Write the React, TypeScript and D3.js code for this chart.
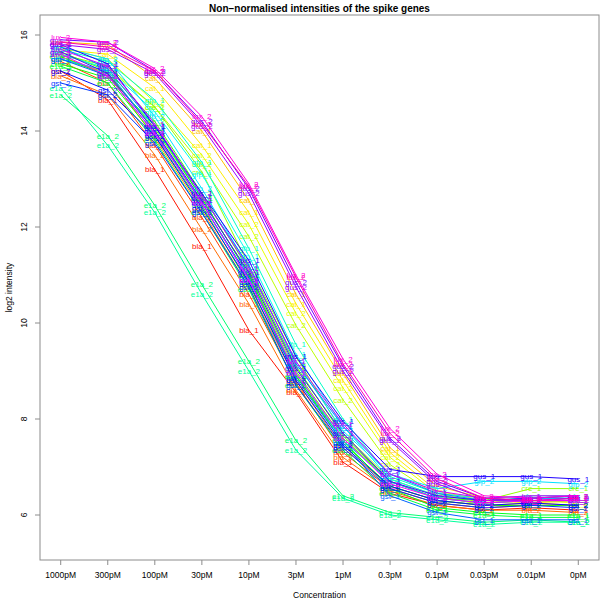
import React from "react";
import * as d3 from "d3";

const concentrations = ["1000pM", "300pM", "100pM", "30pM", "10pM", "3pM", "1pM", "0.3pM", "0.1pM", "0.03pM", "0.01pM", "0pM"];
const yTicks = [6, 8, 10, 12, 14, 16];

// label for each probe line (alphabetical order, as coloured by rainbow)
const probeLabels = [
  "bla_1", "bla_1", "bla_2", "bla_2",
  "cat_1", "cat_1", "cat_2", "cat_2",
  "cre_1", "cre_1", "cre_2", "cre_2",
  "e1a_1", "e1a_1", "e1a_2", "e1a_2",
  "gfp_1", "gfp_1", "gfp_2", "gfp_2",
  "gst_1", "gst_1", "gst_2", "gst_2",
  "gus_1", "gus_1", "gus_2", "gus_2",
  "lux_1", "lux_1", "lux_2", "lux_2",
];

// log2 intensities, one row per probe line, columns follow concentrations
const intensities = [
  [15.25, 14.65, 13.2, 11.6, 9.85, 8.55, 7.1, 6.45, 6.2, 6.1, 6.15, 6.1],
  [15.45, 15.0, 13.7, 12.2, 10.6, 8.75, 7.3, 6.55, 6.25, 6.15, 6.2, 6.2],
  [15.15, 14.75, 13.5, 11.95, 10.4, 8.6, 7.2, 6.5, 6.2, 6.1, 6.1, 6.05],
  [15.55, 15.2, 13.85, 12.35, 10.75, 8.8, 7.4, 6.6, 6.3, 6.2, 6.25, 6.2],
  [15.85, 15.8, 15.1, 14.0, 12.55, 10.6, 8.95, 7.4, 6.6, 6.35, 6.3, 6.3],
  [15.7, 15.6, 14.9, 13.7, 12.3, 10.4, 8.8, 7.3, 6.5, 6.3, 6.25, 6.3],
  [15.75, 15.5, 14.6, 13.5, 12.05, 10.2, 8.65, 7.2, 6.45, 6.25, 6.3, 6.25],
  [15.6, 15.3, 14.5, 13.3, 11.8, 9.95, 8.4, 7.05, 6.4, 6.2, 6.2, 6.2],
  [15.6, 15.35, 14.5, 13.15, 11.2, 9.3, 7.7, 6.75, 6.4, 6.3, 6.55, 6.55],
  [15.5, 15.2, 14.05, 12.6, 11.0, 9.0, 7.6, 6.7, 6.35, 6.25, 6.3, 6.3],
  [15.65, 15.25, 14.2, 12.7, 11.1, 9.1, 7.65, 6.7, 6.35, 6.3, 6.35, 6.4],
  [15.4, 15.1, 13.9, 12.45, 10.8, 8.9, 7.5, 6.6, 6.3, 6.2, 6.2, 6.2],
  [15.55, 15.15, 14.1, 12.6, 11.0, 8.9, 7.55, 6.55, 6.15, 6.05, 6.0, 6.0],
  [15.35, 15.0, 13.8, 12.3, 10.7, 8.7, 7.35, 6.45, 6.1, 6.0, 5.95, 5.95],
  [14.75, 13.9, 12.45, 10.8, 9.2, 7.55, 6.4, 6.05, 5.95, 5.85, 5.9, 5.85],
  [14.9, 13.7, 12.3, 10.6, 9.0, 7.35, 6.35, 6.0, 5.9, 5.8, 5.85, 5.85],
  [15.7, 15.45, 14.65, 13.35, 11.55, 9.55, 8.0, 6.8, 6.45, 6.35, 6.4, 6.4],
  [15.6, 15.3, 14.4, 13.1, 11.4, 9.35, 7.85, 6.75, 6.4, 6.3, 6.35, 6.35],
  [15.75, 15.5, 14.3, 12.8, 11.15, 9.2, 7.75, 6.85, 6.55, 6.7, 6.7, 6.65],
  [15.5, 15.25, 14.0, 12.5, 10.9, 8.95, 7.55, 6.7, 6.35, 6.25, 6.3, 6.3],
  [15.75, 15.3, 14.1, 12.65, 11.2, 9.15, 7.85, 6.85, 6.45, 6.3, 6.35, 6.35],
  [15.5, 15.15, 13.95, 12.5, 10.95, 8.85, 7.5, 6.4, 6.05, 5.9, 5.9, 5.9],
  [15.0, 14.75, 13.75, 12.3, 10.75, 8.7, 7.4, 6.55, 6.25, 6.15, 6.2, 6.15],
  [15.25, 14.85, 13.9, 12.4, 10.85, 8.8, 7.45, 6.6, 6.3, 6.2, 6.25, 6.2],
  [15.8, 15.4, 14.1, 12.7, 11.3, 9.3, 7.95, 6.95, 6.8, 6.8, 6.8, 6.75],
  [15.65, 15.2, 14.0, 12.55, 11.05, 9.05, 7.7, 6.7, 6.4, 6.3, 6.35, 6.4],
  [15.9, 15.85, 15.25, 14.2, 12.8, 10.85, 9.1, 7.6, 6.7, 6.35, 6.3, 6.35],
  [15.8, 15.7, 15.2, 14.1, 12.7, 10.75, 9.0, 7.55, 6.65, 6.3, 6.3, 6.3],
  [15.7, 15.35, 14.15, 12.65, 11.15, 9.2, 7.9, 6.85, 6.5, 6.35, 6.4, 6.4],
  [15.6, 15.15, 13.95, 12.5, 10.9, 8.95, 7.6, 6.65, 6.35, 6.25, 6.3, 6.3],
  [15.95, 15.85, 15.3, 14.3, 12.9, 11.0, 9.25, 7.8, 6.85, 6.4, 6.35, 6.4],
  [15.85, 15.75, 15.25, 14.15, 12.85, 10.95, 9.15, 7.7, 6.75, 6.35, 6.3, 6.35],
];

const W = 600;
const H = 600;
const left = 40;
const right = 599;
const top = 15;
const bottom = 560;
const font = "'Liberation Sans', Arial, Helvetica, sans-serif";
const axisColor = "#8c8c8c";

export default function App() {
  const n = intensities.length;
  const x = d3.scaleLinear().domain([0.56, 12.44]).range([left, right]);
  const y = d3.scaleLinear().domain([16.417, 5.0625]).range([top, bottom]);
  const hue = d3.scaleLinear().domain([0, n - 1]).range([5, 318]);
  const color = (i: number) => d3.hsl(hue(i), 1, 0.5).formatHex();
  const line = d3
    .line<number>()
    .x((_, j) => x(j + 1))
    .y((v) => y(v));

  return (
    <svg width={W} height={H} style={{ position: "absolute", left: 0, top: 0, background: "#fff" }}>
      <text x={(left + right) / 2} y={12} textAnchor="middle" fontFamily={font} fontWeight="bold" fontSize={10}>
        Non−normalised intensities of the spike genes
      </text>
      {intensities.map((row, i) => (
        <g key={i}>
          <path d={line(row) || ""} fill="none" stroke={color(i)} strokeWidth={1} />
          {row.map((v, j) => (
            <text
              key={j}
              x={x(j + 1)}
              y={y(v)}
              dy="0.35em"
              textAnchor="middle"
              fontFamily={font}
              fontSize={8}
              fill={color(i)}
            >
              {probeLabels[i]}
            </text>
          ))}
        </g>
      ))}
      <rect x={left} y={top} width={right - left} height={bottom - top} fill="none" stroke={axisColor} strokeWidth={1} />
      {concentrations.map((c, j) => (
        <g key={c}>
          <line x1={x(j + 1)} x2={x(j + 1)} y1={bottom} y2={bottom + 5} stroke={axisColor} />
          <text x={x(j + 1)} y={bottom + 18} textAnchor="middle" fontFamily={font} fontSize={8.5}>
            {c}
          </text>
        </g>
      ))}
      {yTicks.map((t) => (
        <g key={t}>
          <line x1={left - 5} x2={left} y1={y(t)} y2={y(t)} stroke={axisColor} />
          <text
            transform={`translate(${left - 13},${y(t)}) rotate(-90)`}
            textAnchor="middle"
            fontFamily={font}
            fontSize={8.5}
          >
            {t}
          </text>
        </g>
      ))}
      <text x={(left + right) / 2} y={598} textAnchor="middle" fontFamily={font} fontSize={8.5}>
        Concentration
      </text>
      <text
        transform={`translate(12,${(top + bottom) / 2}) rotate(-90)`}
        textAnchor="middle"
        fontFamily={font}
        fontSize={8.5}
      >
        log2 intensity
      </text>
    </svg>
  );
}
